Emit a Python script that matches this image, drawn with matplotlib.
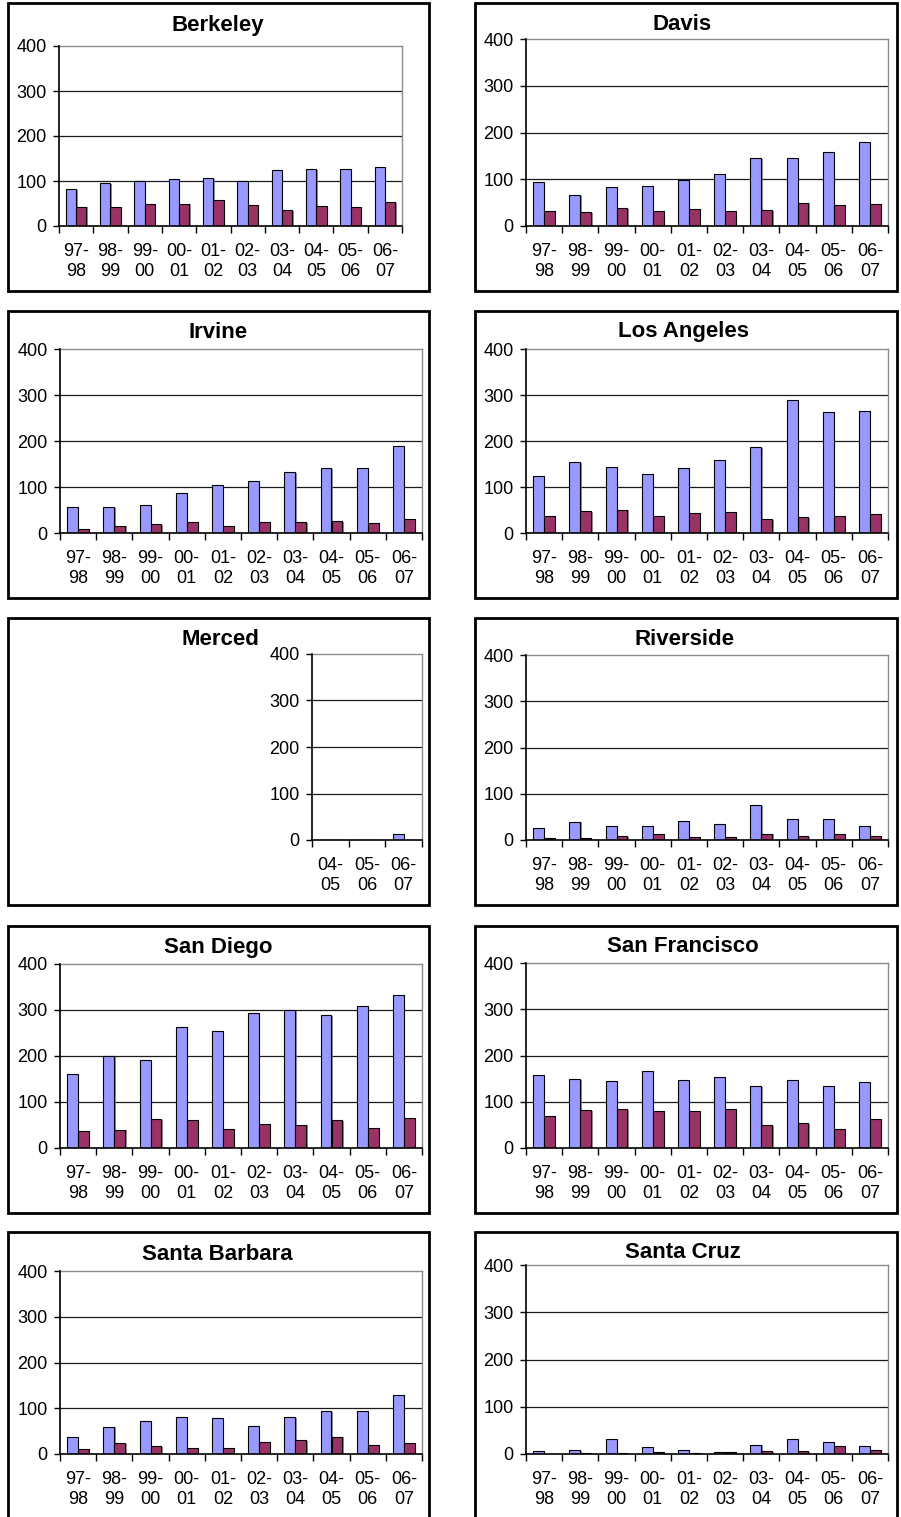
import matplotlib
matplotlib.use("Agg")
import matplotlib.pyplot as plt
import matplotlib.patheffects as pe
from matplotlib.patches import Rectangle
import numpy as np

plt.rcParams['font.family'] = ['Liberation Sans', 'DejaVu Sans']

# ---------------------------------------------------------------- data
years = ["97-\n98", "98-\n99", "99-\n00", "00-\n01", "01-\n02",
         "02-\n03", "03-\n04", "04-\n05", "05-\n06", "06-\n07"]
merced_years = ["04-\n05", "05-\n06", "06-\n07"]

campuses = ["Berkeley", "Davis", "Irvine", "Los Angeles", "Merced",
            "Riverside", "San Diego", "San Francisco", "Santa Barbara",
            "Santa Cruz"]

berkeley_a = [82, 96, 99, 105, 107, 100, 124, 126, 127, 132]
berkeley_b = [43, 42, 48, 50, 57, 47, 35, 45, 42, 54]
davis_a = [94, 67, 84, 86, 99, 111, 145, 145, 158, 180]
davis_b = [32, 29, 39, 33, 37, 32, 34, 50, 44, 46]
irvine_a = [57, 56, 60, 87, 105, 112, 133, 141, 141, 190]
irvine_b = [8, 16, 20, 23, 16, 25, 23, 26, 22, 30]
los_angeles_a = [125, 154, 144, 129, 141, 159, 186, 290, 264, 266]
los_angeles_b = [36, 47, 51, 38, 43, 46, 30, 35, 36, 42]
merced_a = [1, 1, 12]
merced_b = [0, 0, 0]
riverside_a = [26, 40, 31, 30, 41, 35, 76, 46, 46, 31]
riverside_b = [5, 4, 9, 14, 7, 6, 14, 8, 14, 9]
san_diego_a = [161, 200, 192, 264, 255, 293, 299, 289, 309, 332]
san_diego_b = [36, 40, 62, 60, 42, 53, 51, 60, 44, 65]
san_francisco_a = [157, 149, 144, 167, 148, 153, 134, 148, 135, 143]
san_francisco_b = [69, 82, 85, 81, 80, 85, 49, 53, 42, 62]
santa_barbara_a = [37, 60, 73, 81, 78, 61, 81, 94, 94, 129]
santa_barbara_b = [12, 24, 17, 13, 13, 26, 31, 38, 20, 25]
santa_cruz_a = [6, 9, 32, 15, 9, 4, 20, 32, 26, 16]
santa_cruz_b = [1, 2, 2, 4, 2, 5, 6, 6, 16, 9]

y_ticks = [0, 100, 200, 300, 400]

series = {
    "Berkeley": (years, berkeley_a, berkeley_b),
    "Davis": (years, davis_a, davis_b),
    "Irvine": (years, irvine_a, irvine_b),
    "Los Angeles": (years, los_angeles_a, los_angeles_b),
    "Merced": (merced_years, merced_a, merced_b),
    "Riverside": (years, riverside_a, riverside_b),
    "San Diego": (years, san_diego_a, san_diego_b),
    "San Francisco": (years, san_francisco_a, san_francisco_b),
    "Santa Barbara": (years, santa_barbara_a, santa_barbara_b),
    "Santa Cruz": (years, santa_cruz_a, santa_cruz_b),
}

# ---------------------------------------------------------------- layout (pixels)
W, H, DPI = 901, 1517, 100

frame_cols = [(8, 429), (475, 897)]
frame_rows = [(3, 291), (311, 598), (618, 905), (926, 1213), (1232, 1530)]

# plot area: left, top, right, bottom
plot_box = {
    "Berkeley": (59, 46, 402, 226),
    "Davis": (526, 39, 888, 226),
    "Irvine": (60, 349, 422, 533),
    "Los Angeles": (526, 349, 888, 533),
    "Merced": (312, 654, 422, 840),
    "Riverside": (526, 655, 888, 840),
    "San Diego": (60, 964, 422, 1148),
    "San Francisco": (526, 963, 888, 1148),
    "Santa Barbara": (60, 1271, 422, 1454),
    "Santa Cruz": (526, 1265, 888, 1454),
}
title_pos = {
    "Berkeley": (218, 25),
    "Davis": (682, 25),
    "Irvine": (218, 332),
    "Los Angeles": (683, 332),
    "Merced": (220, 639),
    "Riverside": (685, 639),
    "San Diego": (218, 947),
    "San Francisco": (683, 947),
    "Santa Barbara": (217, 1255),
    "Santa Cruz": (683, 1253),
}

BLUE = "#9999FF"
PLUM = "#993366"
GRID = "#1a1a1a"
BORDER = "#8c8c8c"
BAR_W = 0.3

fig = plt.figure(figsize=(W / DPI, H / DPI), dpi=DPI)
fig.patch.set_facecolor("white")

# outer frames around each chart
for (top, bottom) in frame_rows:
    for (left, right) in frame_cols:
        fig.add_artist(Rectangle((left / W, 1 - bottom / H),
                                 (right - left) / W, (bottom - top) / H,
                                 transform=fig.transFigure, fill=False,
                                 edgecolor="black", linewidth=2.0,
                                 clip_on=False))

shadow = [pe.SimplePatchShadow(offset=(1.0, -0.6), shadow_rgbFace="0.45",
                               alpha=0.8), pe.Normal()]

for name in campuses:
    labels, a_vals, b_vals = series[name]
    l, t, r, b = plot_box[name]
    ax = fig.add_axes([l / W, 1 - b / H, (r - l) / W, (b - t) / H])
    x = np.arange(len(labels))

    ax.bar(x - BAR_W / 2, a_vals, width=BAR_W, color=BLUE,
           edgecolor="black", linewidth=0.8, zorder=3, path_effects=shadow)
    ax.bar(x + BAR_W / 2, b_vals, width=BAR_W, color=PLUM,
           edgecolor="black", linewidth=0.8, zorder=3, path_effects=shadow)

    ax.set_xlim(-0.5, len(labels) - 0.5)
    ax.set_ylim(0, 400)
    ax.set_yticks(y_ticks)
    ax.set_yticklabels([str(v) for v in y_ticks], fontsize=13)
    for v in y_ticks[1:-1]:
        ax.axhline(v, color=GRID, linewidth=0.9, zorder=1)

    ax.set_xticks(x)
    ax.set_xticklabels(labels, fontsize=13, linespacing=1.25)
    ax.set_xticks(np.arange(-0.5, len(labels)), minor=True)
    ax.tick_params(axis="x", which="major", length=0, pad=12)
    ax.tick_params(axis="x", which="minor", length=5, width=1.0,
                   direction="out", color="black")
    ax.tick_params(axis="y", length=4, width=1.0, direction="out",
                   pad=5, color="black")

    for side in ("left", "bottom"):
        ax.spines[side].set_color("black")
        ax.spines[side].set_linewidth(1.2)
        ax.spines[side].set_zorder(4)
    for side in ("top", "right"):
        ax.spines[side].set_color(BORDER)
        ax.spines[side].set_linewidth(1.0)

    tx, ty = title_pos[name]
    fig.text(tx / W, 1 - ty / H, name, ha="center", va="center",
             fontsize=16, fontweight="bold")

fig.savefig("out.png", dpi=DPI, facecolor="white")
